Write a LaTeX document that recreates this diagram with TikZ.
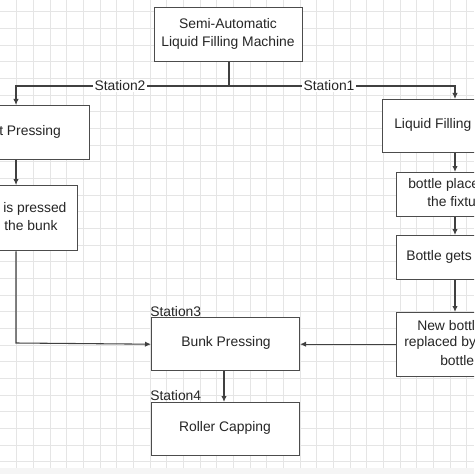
\documentclass[tikz,border=0pt]{standalone}
\usepackage{fontspec}
\setmainfont{Liberation Sans}
\usetikzlibrary{arrows.meta}
\begin{document}
\begin{tikzpicture}[x=0.75pt,y=-0.75pt,
  box/.style={draw=black!70,line width=0.8pt,fill=white},
  conn/.style={draw=black!75,line width=0.8pt},
  arr/.style={conn,-{Latex[length=4.5pt,width=4pt]}},
  txt/.style={inner sep=0pt,font=\fontsize{10.4}{13}\selectfont,text=black!85},
  lbl/.style={txt,fill=white,inner sep=1pt}]
\useasboundingbox (0,0) rectangle (474,474);
\clip (0,0) rectangle (474,474);
\fill[white] (0,0) rectangle (474,474);
% grid
\foreach \i in {1,...,28} {\draw[black!10,line width=0.6pt] ({16.67*\i},0) -- ({16.67*\i},468);}
\foreach \j in {0,...,27} {\draw[black!10,line width=0.6pt] (0,{11.7+16.67*\j}) -- (474,{11.7+16.67*\j});}
\fill[black!4] (0,468) rectangle (474,474);
% boxes
\node[box,minimum width=111pt,minimum height=40.5pt,anchor=north west] (top) at (154,7) {};
\node[txt,align=center] (toptext) at (228,34) {Semi-Automatic\\Liquid Filling Machine};
\node[box,minimum width=111pt,minimum height=40.5pt,anchor=north east] (l1) at (90,105) {};
\node[txt,anchor=west] (l1t) at (-1,132) {t Pressing};
\node[box,minimum width=93pt,minimum height=49pt,anchor=north east] (l2) at (78,185) {};
\node[txt,anchor=west] (l2a) at (3,209) {is pressed};
\node[txt,anchor=west] (l2b) at (4,226) {the bunk};
\node[box,minimum width=111pt,minimum height=40pt,anchor=north west] (bp) at (151,317) {};
\node[txt] (bpt) at (226,343) {Bunk Pressing};
\node[box,minimum width=111pt,minimum height=40pt,anchor=north west] (rc) at (151,402) {};
\node[txt] (rct) at (225,428) {Roller Capping};
\node[txt,anchor=south west] (s3) at (150,317) {Station3};
\node[txt,anchor=south west] (s4) at (150,401) {Station4};
% right boxes
\node[box,minimum width=111pt,minimum height=40pt,anchor=north west] (r1) at (382,99) {};
\node[txt,anchor=west] (r1t) at (394,125) {Liquid Filling};
\node[box,minimum width=90pt,minimum height=33pt,anchor=north west] (r2) at (396,172) {};
\node[txt,anchor=west] (r2a) at (408,185) {bottle place};
\node[txt,anchor=west] (r2b) at (427,202) {the fixtu};
\node[box,minimum width=90pt,minimum height=33pt,anchor=north west] (r3) at (396,235) {};
\node[txt,anchor=west] (r3t) at (406,257) {Bottle gets};
\node[box,minimum width=90pt,minimum height=48pt,anchor=north west] (r4) at (396,312) {};
\node[txt,anchor=west] (r4a) at (417,326) {New bottl};
\node[txt,anchor=west] (r4b) at (404,343) {replaced by};
\node[txt,anchor=west] (r4c) at (440,361) {bottle};
% connectors
\coordinate (j) at (229,86);
\coordinate (jl) at (16,86);
\coordinate (jr) at (455,86);
\draw[conn] (top.south -| j) -- (j);
\draw[arr] (j) -- (jl) -- (jl |- l1.north);
\draw[arr] (j) -- (jr) -- (jr |- r1.north);
\node[lbl] (st2) at (120,86) {Station2};
\node[lbl] (st1) at (329,86) {Station1};
\draw[arr] (jl |- l1.south) -- (jl |- l2.north);
\coordinate (lc) at (16,343);
\draw[arr] (jl |- l2.south) -- (lc) -- (bp.west);
\draw[arr] (jr |- r1.south) -- (jr |- r2.north);
\draw[arr] (jr |- r2.south) -- (jr |- r3.north);
\draw[arr] (jr |- r3.south) -- (jr |- r4.north);
\draw[arr] (r4.west |- bp.east) -- (bp.east);
\draw[arr] (bp.south -| 224,0) -- (rc.north -| 224,0);
\end{tikzpicture}
\end{document}
